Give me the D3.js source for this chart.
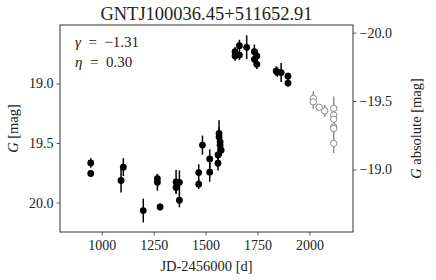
<!DOCTYPE html>
<html><head><meta charset="utf-8">
<script src="https://cdn.jsdelivr.net/npm/d3@7"></script>
<style>body{margin:0;background:#fff}svg{display:block}text{font-family:"Liberation Serif","DejaVu Serif",serif;fill:#222}</style>
</head><body>
<script>
// closed points (JD-2456000, G mag, error)
const jd  = [947,947,1093,1104,1200,1268,1268,1281,1358,1358,1374,1374,1467,1467,1485,1520,1520,1560,1560,1565,1565,1570,1570,1575,1642,1642,1663,1663,1698,1735,1735,1747,1747,1840,1846,1864,1897,1897];
const mag = [19.667,19.756,19.815,19.703,20.067,19.80,19.83,20.037,19.827,19.873,19.83,19.98,19.748,19.846,19.518,19.634,19.745,19.60,19.67,19.42,19.449,19.49,19.518,19.56,18.734,18.77,18.684,18.762,18.697,18.734,18.798,18.77,18.84,18.897,18.905,18.909,18.94,18.997];
const err = [0.04,0.03,0.10,0.075,0.10,0.04,0.07,0.03,0.10,0.05,0.10,0.06,0.07,0.04,0.08,0.08,0.08,0.06,0.06,0.11,0.08,0.07,0.06,0.05,0.04,0.04,0.05,0.04,0.10,0.06,0.05,0.05,0.04,0.04,0.04,0.08,0.03,0.03];
// open (grey) points
const jdOpen  = [2019,2019,2047,2074,2117,2117,2117,2117,2117,2117];
const magOpen = [19.126,19.155,19.20,19.23,19.21,19.266,19.30,19.365,19.378,19.504];
const errOpen = [0.06,0.06,0.02,0.05,0.10,0.06,0.05,0.05,0.05,0.08];
const xTicks = [1000,1250,1500,1750,2000];
const yTicks = [19.0,19.5,20.0];
const yAbsTicks = [-20.0,-19.5,-19.0];
const title = "GNTJ100036.45+511652.91";
const gammaLabel = "−1.31", etaLabel = "0.30";

const W=436,H=280, L=60,R=353,T=25,B=232;
const svg=d3.select("body").append("svg").attr("width",W).attr("height",H);
const x=d3.scaleLinear().domain([799,2210]).range([L,R]);
const y=d3.scaleLinear().domain([18.51,20.247]).range([T,B]);
const y2=d3.scaleLinear().domain([-20.056,-18.543]).range([T,B]);
const fmtMinus=d=>d3.format(".1f")(d).replace("-","−");

function styleAxis(g){
  g.select(".domain").remove();
  g.selectAll(".tick line").attr("stroke","#333").attr("stroke-width",0.8);
  g.selectAll(".tick text").attr("font-size","14px").attr("fill","#222").style("font-family",'"Liberation Serif",serif');
}
svg.append("g").attr("transform",`translate(0,${B})`)
  .call(d3.axisBottom(x).tickValues(xTicks).tickSize(3.5).tickPadding(5).tickFormat(d3.format("d"))).call(styleAxis);
svg.append("g").attr("transform",`translate(${L},0)`)
  .call(d3.axisLeft(y).tickValues(yTicks).tickSize(3.5).tickPadding(3).tickFormat(d3.format(".1f"))).call(styleAxis);
svg.append("g").attr("transform",`translate(${R},0)`)
  .call(d3.axisRight(y2).tickValues(yAbsTicks).tickSize(3.5).tickPadding(3).tickFormat(fmtMinus)).call(styleAxis);

// error bars
svg.append("g").selectAll("line").data(d3.range(jdOpen.length)).join("line")
  .attr("x1",i=>x(jdOpen[i])).attr("x2",i=>x(jdOpen[i]))
  .attr("y1",i=>y(magOpen[i]-errOpen[i])).attr("y2",i=>y(magOpen[i]+errOpen[i]))
  .attr("stroke","#8a8a8a").attr("stroke-width",1.4);
svg.append("g").selectAll("circle").data(d3.range(jdOpen.length)).join("circle")
  .attr("cx",i=>x(jdOpen[i])).attr("cy",i=>y(magOpen[i])).attr("r",3.2)
  .attr("fill","#fff").attr("stroke","#8a8a8a").attr("stroke-width",1);
svg.append("g").selectAll("line").data(d3.range(jd.length)).join("line")
  .attr("x1",i=>x(jd[i])).attr("x2",i=>x(jd[i]))
  .attr("y1",i=>y(mag[i]-err[i])).attr("y2",i=>y(mag[i]+err[i]))
  .attr("stroke","#000").attr("stroke-width",1.5);
svg.append("g").selectAll("circle").data(d3.range(jd.length)).join("circle")
  .attr("cx",i=>x(jd[i])).attr("cy",i=>y(mag[i])).attr("r",3.4).attr("fill","#000");

// frame
svg.append("rect").attr("x",L).attr("y",T).attr("width",R-L).attr("height",B-T)
  .attr("fill","none").attr("stroke","#333").attr("stroke-width",1);

// title & labels
svg.append("text").attr("x",(L+R)/2).attr("y",20).attr("text-anchor","middle").attr("font-size","18.5px").text(title);
svg.append("text").attr("x",(L+R)/2).attr("y",271).attr("text-anchor","middle").attr("font-size","14.5px").text("JD-2456000 [d]");
svg.append("text").attr("transform",`translate(18,${(T+B)/2}) rotate(-90)`).attr("text-anchor","middle").attr("font-size","14.5px")
  .html('<tspan font-style="italic">G</tspan> [mag]');
svg.append("text").attr("transform",`translate(421,${(T+B)/2}) rotate(-90)`).attr("text-anchor","middle").attr("font-size","14.5px")
  .html('<tspan font-style="italic">G</tspan> absolute [mag]');
svg.append("text").attr("x",75).attr("y",47).attr("font-size","15px").style("white-space","pre")
  .html(`<tspan font-style="italic">γ</tspan>\u2002=\u2002${gammaLabel}`);
svg.append("text").attr("x",75).attr("y",67).attr("font-size","15px").style("white-space","pre")
  .html(`<tspan font-style="italic">η</tspan>\u2002=\u2002${etaLabel}`);
</script>
</body></html>
